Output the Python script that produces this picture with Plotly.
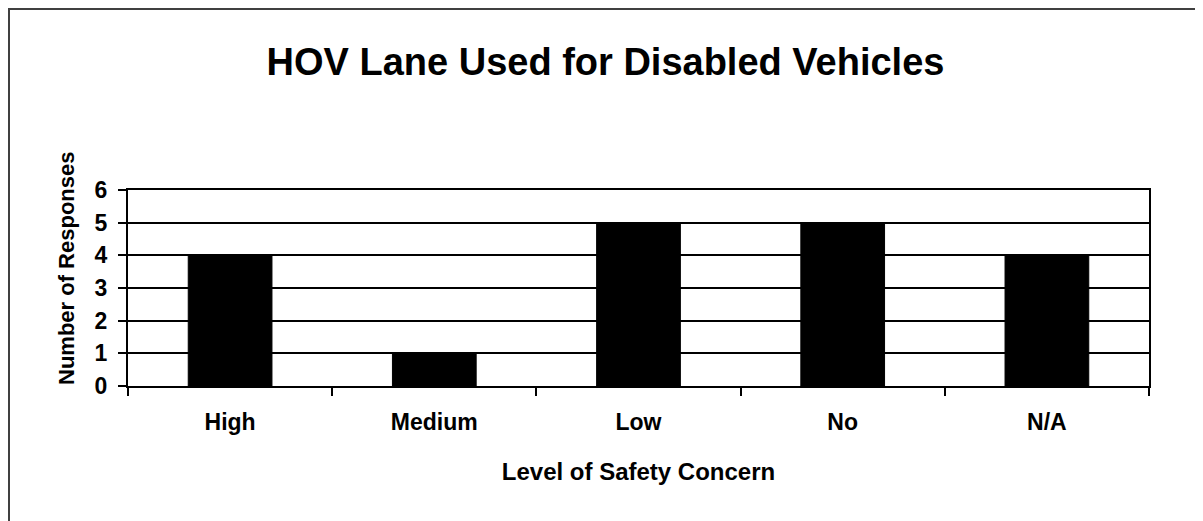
import plotly.graph_objects as go

# data
levels = ["High", "Medium", "Low", "No", "N/A"]
responses = [4, 1, 5, 5, 4]
y_ticks = [0, 1, 2, 3, 4, 5, 6]

# page body has an 8px margin, so the figure is shrunk by that much
W, H = 1195, 513
L, R, T, B = 120, 54, 182, 135
pw, ph = W - L - R, H - T - B

font = "Liberation Sans, Arial, sans-serif"

fig = go.Figure()
fig.add_trace(go.Bar(
    x=levels,
    y=responses,
    marker=dict(color="black", line=dict(color="black", width=1)),
))

# outer chart border (left/top edges visible, rest runs off the page)
fig.add_shape(type="rect", xref="paper", yref="paper",
              x0=(1 - L) / pw, x1=(W + 20 - L) / pw,
              y0=(ph + T - (H + 20)) / ph, y1=(ph + T - 1) / ph,
              line=dict(color="#404040", width=2), fillcolor="rgba(0,0,0,0)",
              layer="below")

# y axis title placed by hand (it sits above the plot centre in the original)
fig.add_annotation(text="<b>Number of Responses</b>", textangle=-90,
                   xref="paper", yref="paper",
                   x=(58 - L) / pw, y=(ph + T - 260) / ph,
                   xanchor="center", yanchor="middle", showarrow=False,
                   font=dict(size=22, family=font, color="black"))

fig.update_layout(
    width=W, height=H,
    margin=dict(l=L, r=R, t=T, b=B),
    paper_bgcolor="white", plot_bgcolor="white",
    showlegend=False,
    bargap=0.59,
    font=dict(family=font, color="black"),
    title=dict(text="<b>HOV Lane Used for Disabled Vehicles</b>",
               x=0.5, xanchor="center", xref="container",
               y=1 - 54 / H, yref="container", yanchor="middle",
               font=dict(size=38, family=font, color="black")),
    xaxis=dict(
        title=dict(text="<b>Level of Safety Concern</b>", font=dict(size=24), standoff=30),
        tickfont=dict(size=23, family=font),
        tickmode="array", tickvals=levels, ticktext=["<b>%s</b>" % s for s in levels],
        showline=True, linecolor="black", linewidth=2, mirror=True,
        ticks="outside", tickson="boundaries", ticklen=8, tickcolor="black", tickwidth=2,
        ticklabelstandoff=14,
        showgrid=False,
    ),
    yaxis=dict(
        range=[0, 6], tickmode="array", tickvals=y_ticks,
        ticktext=["<b>%d</b>" % v for v in y_ticks],
        tickfont=dict(size=23, family=font),
        showline=True, linecolor="black", linewidth=2, mirror=True,
        ticks="outside", ticklen=8, tickcolor="black", tickwidth=2,
        ticklabelstandoff=6,
        showgrid=True, gridcolor="black", gridwidth=1.5,
        zeroline=False,
    ),
)

fig.write_html("out.html")
